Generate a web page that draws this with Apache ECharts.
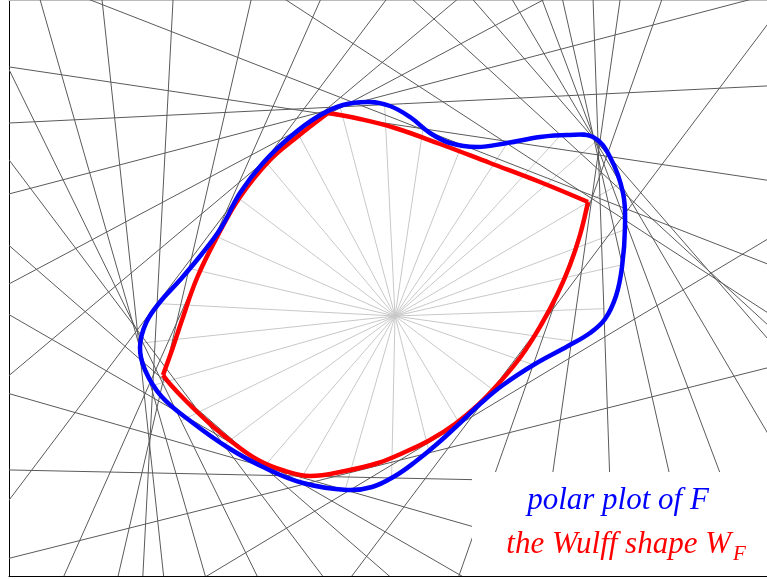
<!DOCTYPE html>
<html>
<head>
<meta charset="utf-8">
<script src="https://cdn.jsdelivr.net/npm/echarts@6/dist/echarts.min.js"></script>
<style>
  html, body { margin: 0; padding: 0; background: #fff; }
  #chart { width: 767px; height: 579px; }
</style>
</head>
<body>
<div id="chart"></div>
<script>
// directions of the construction rays (degrees) and the value of F along each one
const rayAngles = [2, 12.7, 20.6, 30.5, 41, 47.5, 57, 68.7, 81.5, 92.8, 104.7, 118, 130, 143, 156,
  167, 177, 186.1, 196, 206.1, 217, 229, 240, 254, 268.8, 284.1, 301, 323, 340.6, 351.9];
const rayValues = [209, 233, 249, 261.6, 266.4, 245.3, 205.7, 183.8, 189.3, 211.6, 216, 209.5, 202.5, 197.4, 196.7,
  211.3, 238.2, 257.7, 254, 238.2, 214.3, 200, 191.8, 181, 162, 141, 126, 122, 146.6, 178.3];

// polar plot of F (closed curve), points relative to the origin
const polarX = [230, 228, 215, 198, 172, 145, 112, 82, 55, 35, 15, -5, -25, -52, -78, -105, -132, -155, -174, -194,
  -215, -235, -249, -255, -250, -233, -202, -168, -132, -92, -48, -23, 0, 20, 42, 65, 85, 108, 140, 173, 195, 210, 221, 227];
const polarY = [89, 123, 159, 179, 181, 179, 173, 169, 173, 183, 199, 210, 214, 211, 199, 179, 153, 123, 88, 61,
  36, 14, -7, -31, -54, -81, -107, -131, -151, -167, -174, -171, -160, -146, -128, -107, -88, -69, -48, -30, -17, -3, 20, 49];

// Wulff shape, three arcs between its corners
const wulffTopX = [-67, -35, 0, 45, 95, 145, 193];
const wulffTopY = [203, 197, 188, 172, 153, 134, 114];
const wulffRightX = [193, 185, 175, 162, 146, 127, 105, 83, 60, 35, 10, -17, -50, -85, -110, -137, -163, -187, -209, -225, -232];
const wulffRightY = [114, 81, 51, 21, -9, -39, -66, -89, -108, -124, -136, -147, -155, -160, -155, -144, -126, -106, -85, -68, -59];
const wulffLeftX = [-232, -223, -213, -198, -178, -155, -125, -98, -67];
const wulffLeftY = [-59, -34, -4, 38, 79, 119, 156, 179, 203];

const chart = echarts.init(document.getElementById('chart'));
const rad = Math.PI / 180;

function pts(xs, ys, api) {
  return xs.map((x, i) => api.coord([x, ys[i]]));
}

const option = {
  animation: false,
  grid: { left: 9, right: 0, top: 0, bottom: 3 },
  xAxis: [
    {
      type: 'value', min: -386, max: 372,
      axisLine: { show: true, onZero: false, lineStyle: { color: '#000', width: 1 } },
      axisTick: { show: false }, axisLabel: { show: false }, splitLine: { show: false }
    },
    {
      type: 'value', position: 'top', min: -386, max: 372,
      axisLine: { show: true, onZero: false, lineStyle: { color: '#bbb', width: 1 } },
      axisTick: { show: false }, axisLabel: { show: false }, splitLine: { show: false }
    }
  ],
  yAxis: {
    type: 'value', min: -260, max: 316,
    axisLine: { show: true, onZero: false, lineStyle: { color: '#000', width: 1 } },
    axisTick: { show: false }, axisLabel: { show: false }, splitLine: { show: false }
  },
  series: [
    {
      // rays from the origin
      type: 'custom', z: 1, silent: true,
      data: rayAngles.map((a, i) => [a, rayValues[i]]),
      renderItem: function (params, api) {
        const a = api.value(0) * rad, r = api.value(1);
        const p0 = api.coord([0, 0]);
        const p1 = api.coord([r * Math.cos(a), r * Math.sin(a)]);
        return {
          type: 'line',
          shape: { x1: p0[0], y1: p0[1], x2: p1[0], y2: p1[1] },
          style: { stroke: '#c8c8c8', lineWidth: 1 }
        };
      }
    },
    {
      // half-plane boundaries, normal to each ray
      type: 'custom', z: 2, clip: true, silent: true,
      data: rayAngles.map((a, i) => [a, rayValues[i]]),
      renderItem: function (params, api) {
        const a = api.value(0) * rad, r = api.value(1);
        const c = Math.cos(a), s = Math.sin(a), L = 2000;
        const p0 = api.coord([r * c + L * s, r * s - L * c]);
        const p1 = api.coord([r * c - L * s, r * s + L * c]);
        return {
          type: 'line',
          shape: { x1: p0[0], y1: p0[1], x2: p1[0], y2: p1[1] },
          style: { stroke: '#5a5a5a', lineWidth: 1 }
        };
      }
    },
    {
      type: 'custom', z: 3, silent: true,
      data: [[0, 0]],
      renderItem: function (params, api) {
        const style = { stroke: '#ff0000', lineWidth: 4.5, fill: null, lineJoin: 'miter' };
        return {
          type: 'group',
          children: [
            { type: 'polyline', shape: { points: pts(wulffTopX, wulffTopY, api), smooth: 0.4 }, style: style },
            { type: 'polyline', shape: { points: pts(wulffRightX, wulffRightY, api), smooth: 0.4 }, style: style },
            { type: 'polyline', shape: { points: pts(wulffLeftX, wulffLeftY, api), smooth: 0.4 }, style: style }
          ]
        };
      }
    },
    {
      type: 'custom', z: 4, silent: true,
      data: [[0, 0]],
      renderItem: function (params, api) {
        return {
          type: 'polygon',
          shape: { points: pts(polarX, polarY, api), smooth: 0.4 },
          style: { stroke: '#0000ff', lineWidth: 4.5, fill: null }
        };
      }
    }
  ],
  graphic: [
    { type: 'rect', z: 100, shape: { x: 472, y: 472, width: 295, height: 104 }, style: { fill: '#fff' } },
    {
      type: 'text', z: 101, x: 618, y: 501,
      style: { text: 'polar plot of F', fill: '#0000ff', font: 'italic 31px "Liberation Serif"', textAlign: 'center', textVerticalAlign: 'middle' }
    },
    {
      type: 'text', z: 101, x: 731, y: 545,
      style: { text: 'the Wulff shape W', fill: '#ff0000', font: 'italic 31px "Liberation Serif"', textAlign: 'right', textVerticalAlign: 'middle' }
    },
    {
      type: 'text', z: 101, x: 733, y: 554,
      style: { text: 'F', fill: '#ff0000', font: 'italic 21px "Liberation Serif"', textAlign: 'left', textVerticalAlign: 'middle' }
    }
  ]
};
chart.setOption(option);
</script>
</body>
</html>
